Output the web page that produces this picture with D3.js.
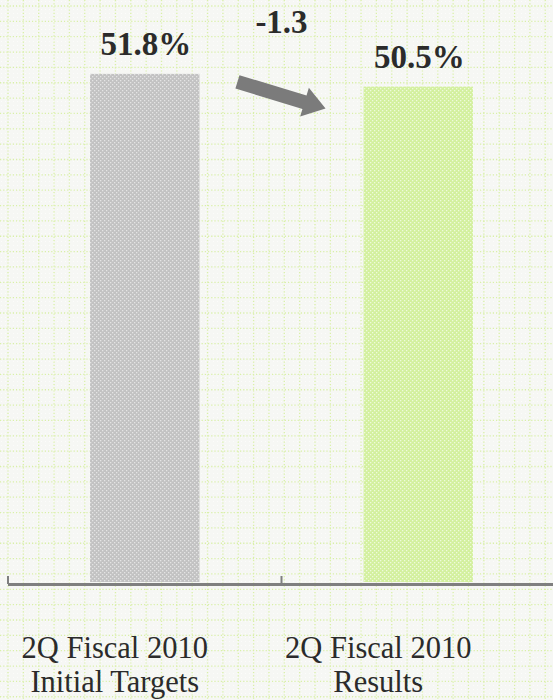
<!DOCTYPE html>
<html>
<head>
<meta charset="utf-8">
<script src="https://cdn.jsdelivr.net/npm/d3@7"></script>
<style>
  body { margin: 0; background: #f6f7f4; }
  svg { display: block; }
  text { font-family: "Liberation Serif", "Times New Roman", serif; fill: #2b2b2b; }
</style>
</head>
<body>
<div id="chart"></div>
<script>
var categories = ["2Q Fiscal 2010 Initial Targets", "2Q Fiscal 2010 Results"];
var labelLines = [["2Q Fiscal 2010", "Initial Targets"], ["2Q Fiscal 2010", "Results"]];
var values = [51.8, 50.5];
var valueLabels = ["51.8%", "50.5%"];
var changeLabel = "-1.3";

var width = 553, height = 700;
var margin = {top: 0, right: -2, bottom: 118, left: 8};
var baseY = height - margin.bottom;   // zero line

var svg = d3.select("#chart").append("svg")
    .attr("width", width)
    .attr("height", height);

var defs = svg.append("defs");

// background texture
var bg = defs.append("pattern").attr("id", "bgdots")
    .attr("patternUnits", "userSpaceOnUse").attr("width", 4).attr("height", 4);
bg.append("rect").attr("width", 4).attr("height", 4).attr("fill", "#f6f7f4");
bg.append("rect").attr("x", 1).attr("y", 1).attr("width", 1).attr("height", 1).attr("fill", "#fcfcfb");

// dotted bar fills
function dotPattern(id, base, dot) {
  var p = defs.append("pattern").attr("id", id)
      .attr("patternUnits", "userSpaceOnUse").attr("width", 4).attr("height", 4);
  p.append("rect").attr("width", 4).attr("height", 4).attr("fill", base);
  p.append("rect").attr("x", 0).attr("y", 0).attr("width", 1.3).attr("height", 1.3).attr("fill", dot);
  p.append("rect").attr("x", 2).attr("y", 2).attr("width", 1.3).attr("height", 1.3).attr("fill", dot);
}
dotPattern("grayDots", "#c2c2c2", "#e4e4e4");
dotPattern("greenDots", "#d3f09e", "#eefadb");
var fills = ["url(#grayDots)", "url(#greenDots)"];

svg.append("rect").attr("width", width).attr("height", height).attr("fill", "url(#bgdots)");

// dotted green grid
var step = 15.35;
var grid = svg.append("g").attr("stroke", "#d9f0a8").attr("stroke-width", 1.3)
    .attr("stroke-dasharray", "1.2,2");
grid.selectAll("line.v").data(d3.range(8, width, step)).enter().append("line")
    .attr("x1", function(d) { return d; }).attr("x2", function(d) { return d; })
    .attr("y1", 0).attr("y2", height);
grid.selectAll("line.h").data(d3.range(6, height, step)).enter().append("line")
    .attr("x1", 0).attr("x2", width)
    .attr("y1", function(d) { return d; }).attr("y2", function(d) { return d; });

// scales
var x = d3.scaleBand().domain(categories)
    .range([margin.left, width - margin.right]).paddingInner(0.6).paddingOuter(0.3);
var y = d3.scaleLinear().domain([0, 60]).range([baseY, baseY - 60 * 9.81]);

// bars
svg.selectAll("rect.bar").data(values).enter().append("rect")
    .attr("class", "bar")
    .attr("x", function(d, i) { return x(categories[i]); })
    .attr("width", x.bandwidth())
    .attr("y", function(d) { return y(d); })
    .attr("height", function(d) { return baseY - y(d); })
    .attr("fill", function(d, i) { return fills[i]; });

// axis with ticks at category boundaries
var edges = [margin.left, (margin.left + width - margin.right) / 2];
svg.append("line").attr("x1", margin.left).attr("x2", width)
    .attr("y1", baseY + 2.5).attr("y2", baseY + 2.5)
    .attr("stroke", "#7f7f7f").attr("stroke-width", 3);
svg.selectAll("line.tick").data(edges).enter().append("line")
    .attr("x1", function(d) { return d; }).attr("x2", function(d) { return d; })
    .attr("y1", baseY - 6).attr("y2", baseY + 2)
    .attr("stroke", "#7f7f7f").attr("stroke-width", 2);

// value labels
svg.selectAll("text.val").data(values).enter().append("text")
    .attr("x", function(d, i) { return x(categories[i]) + x.bandwidth() / 2 + 1; })
    .attr("y", function(d) { return y(d) - 19; })
    .attr("text-anchor", "middle")
    .style("font-size", "33px").style("font-weight", "bold")
    .text(function(d, i) { return valueLabels[i]; });

// category labels (two lines each)
var catOffset = [-30, -40];
categories.forEach(function(c, i) {
  labelLines[i].forEach(function(line, k) {
    svg.append("text")
        .attr("x", x(c) + x.bandwidth() / 2 + catOffset[i])
        .attr("y", 658 + k * 34)
        .attr("text-anchor", "middle")
        .style("font-size", "30.5px")
        .text(line);
  });
});

// change arrow between the two bars
var ax0 = x(categories[0]) + x.bandwidth() + 38, ay0 = y(values[0]) + 8;
var ax1 = x(categories[1]) - 38, ay1 = y(values[1]) + 22;
var ang = Math.atan2(ay1 - ay0, ax1 - ax0) * 180 / Math.PI;
var len = Math.hypot(ax1 - ax0, ay1 - ay0);
svg.append("path")
    .attr("transform", "translate(" + ax0 + "," + ay0 + ") rotate(" + ang + ")")
    .attr("d", "M0,-7 L" + (len - 22) + ",-7 L" + (len - 22) + ",-15 L" + len + ",0 L" +
               (len - 22) + ",15 L" + (len - 22) + ",7 L0,7 Z")
    .attr("fill", "#7b7b7b");

svg.append("text")
    .attr("x", (ax0 + ax1) / 2)
    .attr("y", 33)
    .attr("text-anchor", "middle")
    .style("font-size", "33px").style("font-weight", "bold")
    .text(changeLabel);
</script>
</body>
</html>
